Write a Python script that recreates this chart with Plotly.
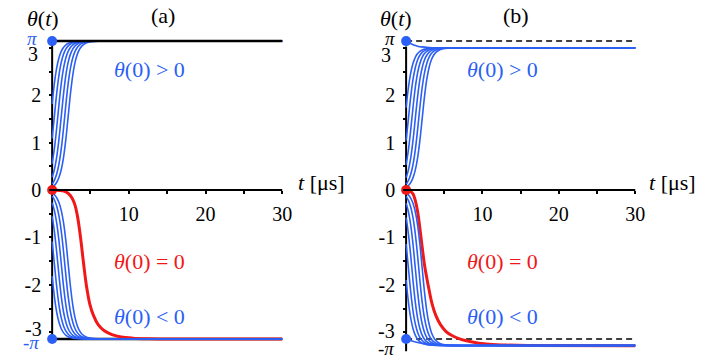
import plotly.graph_objects as go

BLUE = "#2b5ff5"
RED = "#f01818"
SERIF = "Liberation Serif"

# shared time grid for the blue trajectories [µs]
t_grid = [0, 0.3, 0.6, 0.9, 1.2, 1.5, 1.8, 2.1, 2.4, 2.7, 3.0, 3.3, 3.6, 3.9, 4.5, 5.1, 6.0, 8.0, 30]

# (a) theta(0) > 0
theta_up_a = [
    [1.818, 2.260, 2.584, 2.797, 2.932, 3.014, 3.064, 3.095, 3.113, 3.124, 3.131, 3.135, 3.138, 3.139, 3.141, 3.1414, 3.1416, 3.1416, 3.1416],
    [1.090, 1.571, 2.051, 2.437, 2.703, 2.873, 2.978, 3.042, 3.081, 3.105, 3.119, 3.128, 3.133, 3.137, 3.140, 3.141, 3.1415, 3.1416, 3.1416],
    [0.558, 0.882, 1.324, 1.818, 2.260, 2.584, 2.797, 2.932, 3.014, 3.064, 3.095, 3.113, 3.124, 3.131, 3.138, 3.140, 3.1413, 3.1416, 3.1416],
    [0.269, 0.439, 0.705, 1.090, 1.571, 2.051, 2.437, 2.703, 2.873, 2.978, 3.042, 3.081, 3.105, 3.119, 3.133, 3.139, 3.141, 3.1416, 3.1416],
    [0.128, 0.210, 0.344, 0.558, 0.882, 1.324, 1.818, 2.260, 2.584, 2.797, 2.932, 3.014, 3.064, 3.095, 3.124, 3.135, 3.140, 3.1415, 3.1416],
    [0.060, 0.099, 0.164, 0.269, 0.439, 0.705, 1.090, 1.571, 2.051, 2.437, 2.703, 2.873, 2.978, 3.042, 3.105, 3.128, 3.139, 3.1414, 3.1416],
]
# (a) theta(0) < 0
theta_dn_a = [
    [-1.818, -2.260, -2.584, -2.797, -2.932, -3.014, -3.064, -3.095, -3.113, -3.124, -3.131, -3.135, -3.138, -3.139, -3.141, -3.1414, -3.1416, -3.1416, -3.1416],
    [-1.090, -1.571, -2.051, -2.437, -2.703, -2.873, -2.978, -3.042, -3.081, -3.105, -3.119, -3.128, -3.133, -3.137, -3.140, -3.141, -3.1415, -3.1416, -3.1416],
    [-0.558, -0.882, -1.324, -1.818, -2.260, -2.584, -2.797, -2.932, -3.014, -3.064, -3.095, -3.113, -3.124, -3.131, -3.138, -3.140, -3.1413, -3.1416, -3.1416],
    [-0.269, -0.439, -0.705, -1.090, -1.571, -2.051, -2.437, -2.703, -2.873, -2.978, -3.042, -3.081, -3.105, -3.119, -3.133, -3.139, -3.141, -3.1416, -3.1416],
    [-0.128, -0.210, -0.344, -0.558, -0.882, -1.324, -1.818, -2.260, -2.584, -2.797, -2.932, -3.014, -3.064, -3.095, -3.124, -3.135, -3.140, -3.1415, -3.1416],
    [-0.060, -0.099, -0.164, -0.269, -0.439, -0.705, -1.090, -1.571, -2.051, -2.437, -2.703, -2.873, -2.978, -3.042, -3.105, -3.128, -3.139, -3.1414, -3.1416],
]
# (b) theta(0) > 0, settling below pi
theta_up_b = [
    [1.736, 2.158, 2.468, 2.671, 2.800, 2.878, 2.926, 2.956, 2.973, 2.983, 2.990, 2.994, 2.997, 2.998, 3.0, 3.0, 3.0, 3.0, 3.0],
    [1.041, 1.500, 1.959, 2.327, 2.581, 2.744, 2.844, 2.905, 2.942, 2.965, 2.979, 2.987, 2.992, 2.996, 2.999, 3.0, 3.0, 3.0, 3.0],
    [0.533, 0.842, 1.264, 1.736, 2.158, 2.468, 2.671, 2.800, 2.878, 2.926, 2.956, 2.973, 2.983, 2.990, 2.997, 2.999, 3.0, 3.0, 3.0],
    [0.257, 0.419, 0.673, 1.041, 1.500, 1.959, 2.327, 2.581, 2.744, 2.844, 2.905, 2.942, 2.965, 2.979, 2.992, 2.998, 3.0, 3.0, 3.0],
    [0.122, 0.201, 0.329, 0.533, 0.842, 1.264, 1.736, 2.158, 2.468, 2.671, 2.800, 2.878, 2.926, 2.956, 2.983, 2.994, 2.999, 3.0, 3.0],
    [0.057, 0.095, 0.157, 0.257, 0.419, 0.673, 1.041, 1.500, 1.959, 2.327, 2.581, 2.744, 2.844, 2.905, 2.965, 2.987, 2.998, 3.0, 3.0],
]
# (b) theta(0) < 0, settling below -pi
theta_dn_b = [
    [-1.898, -2.359, -2.698, -2.920, -3.061, -3.147, -3.199, -3.231, -3.250, -3.262, -3.269, -3.273, -3.276, -3.277, -3.279, -3.28, -3.28, -3.28, -3.28],
    [-1.138, -1.640, -2.141, -2.544, -2.822, -2.999, -3.109, -3.176, -3.217, -3.242, -3.256, -3.266, -3.271, -3.275, -3.278, -3.279, -3.28, -3.28, -3.28],
    [-0.583, -0.921, -1.382, -1.898, -2.359, -2.698, -2.920, -3.061, -3.147, -3.199, -3.231, -3.250, -3.262, -3.269, -3.276, -3.278, -3.28, -3.28, -3.28],
    [-0.281, -0.458, -0.736, -1.138, -1.640, -2.141, -2.544, -2.822, -2.999, -3.109, -3.176, -3.217, -3.242, -3.256, -3.271, -3.277, -3.279, -3.28, -3.28],
    [-0.134, -0.219, -0.359, -0.583, -0.921, -1.382, -1.898, -2.359, -2.698, -2.920, -3.061, -3.147, -3.199, -3.231, -3.262, -3.273, -3.278, -3.28, -3.28],
    [-0.063, -0.103, -0.171, -0.281, -0.458, -0.736, -1.138, -1.640, -2.141, -2.544, -2.822, -2.999, -3.109, -3.176, -3.242, -3.266, -3.277, -3.28, -3.28],
]

# (b) trajectories starting exactly at +pi / -pi
t_edge_b = [0, 0.5, 1.0, 1.5, 2.0, 3.0, 4.0, 5.0, 30]
theta_from_pi_b = [3.1416, 3.10, 3.06, 3.035, 3.02, 3.006, 3.0, 3.0, 3.0]
theta_from_mpi_b = [-3.1416, -3.17, -3.195, -3.215, -3.232, -3.255, -3.27, -3.278, -3.28]

# red trajectories, theta(0) = 0
t_red_a = [0, 1.0, 1.8, 2.4, 2.9, 3.3, 3.7, 4.1, 4.5, 4.9, 5.4, 6.0, 6.8, 7.8, 9.0, 10.5, 12.5, 15, 30]
theta_red_a = [0, -0.01, -0.04, -0.12, -0.28, -0.55, -1.0, -1.55, -2.05, -2.4, -2.65, -2.84, -2.97, -3.05, -3.1, -3.125, -3.137, -3.141, -3.1416]
t_red_b = [0, 0.5, 0.9, 1.2, 1.5, 1.8, 2.1, 2.4, 2.7, 3.0, 3.4, 3.9, 4.5, 5.2, 6.0, 7.0, 8.5, 10.5, 13, 16, 30]
theta_red_b = [0, -0.02, -0.08, -0.22, -0.45, -0.8, -1.2, -1.57, -1.85, -2.1, -2.4, -2.65, -2.84, -2.98, -3.07, -3.14, -3.2, -3.25, -3.27, -3.28, -3.285]

# reference levels +/- pi
t_ref = [0, 30]
pi_level = [3.1416, 3.1416]
mpi_level = [-3.1416, -3.1416]

# start points
dot_t = [0, 0]
dot_blue = [3.1416, -3.1416]
dot_red = [0]

fig = go.Figure()


def line(x, y, xa, ya, color, width, dash="solid", shape="spline"):
    fig.add_trace(go.Scatter(
        x=x, y=y, xaxis=xa, yaxis=ya, mode="lines",
        line=dict(color=color, width=width, dash=dash, shape=shape),
        showlegend=False, hoverinfo="skip",
    ))


# panel (a)
line(t_ref, mpi_level, "x", "y", "black", 2.5, shape="linear")
line(t_red_a, theta_red_a, "x", "y", RED, 3)
for ys in theta_up_a + theta_dn_a:
    line(t_grid, ys, "x", "y", BLUE, 1.6)
line(t_ref, pi_level, "x", "y", "black", 2.5, shape="linear")

# panel (b)
line(t_ref, pi_level, "x2", "y2", "black", 1.5, dash="6px,4px", shape="linear")
line(t_ref, mpi_level, "x2", "y2", "black", 1.5, dash="6px,4px", shape="linear")
line(t_red_b, theta_red_b, "x2", "y2", RED, 3)
for ys in theta_up_b + theta_dn_b:
    line(t_grid, ys, "x2", "y2", BLUE, 1.6)
line(t_edge_b, theta_from_pi_b, "x2", "y2", BLUE, 1.6)
line(t_edge_b, theta_from_mpi_b, "x2", "y2", BLUE, 1.6)

for xa, ya in (("x", "y"), ("x2", "y2")):
    fig.add_trace(go.Scatter(x=dot_t, y=dot_blue, xaxis=xa, yaxis=ya, mode="markers",
                             marker=dict(color=BLUE, size=10), cliponaxis=False,
                             showlegend=False, hoverinfo="skip"))
    fig.add_trace(go.Scatter(x=[0], y=dot_red, xaxis=xa, yaxis=ya, mode="markers",
                             marker=dict(color=RED, size=10), cliponaxis=False,
                             showlegend=False, hoverinfo="skip"))

tick_font = dict(family=SERIF, size=20, color="black")
xcommon = dict(
    range=[-1, 31], anchor="free", position=0.4737,
    showline=False, zeroline=False, showgrid=False,
    tickvals=[10, 20, 30], ticktext=["10", "20", "30"],
    ticks="outside", ticklen=3, tickwidth=1.5, tickcolor="black",
    minor=dict(tickvals=[5, 15, 25], ticks="outside", ticklen=3, tickwidth=1.5, tickcolor="black"),
    tickfont=tick_font, ticklabelstandoff=3,
)
ycommon = dict(
    range=[-3.55, 3.45], domain=[0.0075, 0.9266],
    showline=False, zeroline=False, showgrid=False,
    tickvals=[-3, -2, -1, 0, 1, 2, 3], ticktext=["", "-2", "-1", "0", "1", "2", ""],
    ticks="outside", ticklen=3, tickwidth=1.5, tickcolor="black",
    minor=dict(tickvals=[-2.5, -1.5, -0.5, 0.5, 1.5, 2.5], ticks="outside", ticklen=3,
               tickwidth=1.5, tickcolor="black"),
    tickfont=tick_font, ticklabelstandoff=4,
)

fig.update_layout(
    width=708, height=361, autosize=False,
    margin=dict(l=0, r=0, t=0, b=0),
    paper_bgcolor="white", plot_bgcolor="white",
    xaxis=dict(domain=[0.0630, 0.4106], **xcommon),
    xaxis2=dict(domain=[0.5644, 0.9106], **xcommon),
    yaxis=dict(anchor="free", position=0.0739, **ycommon),
    yaxis2=dict(anchor="free", position=0.5753, **ycommon),
)

# axis lines crossing at the origin
for xr, yr, ybot, ytop in (("x", "y", -3.2, 3.07), ("x2", "y2", -3.4, 3.03)):
    fig.add_shape(type="line", xref=xr, yref=yr, x0=0, x1=30, y0=0, y1=0,
                  line=dict(color="black", width=2), layer="above")
    fig.add_shape(type="line", xref=xr, yref=yr, x0=0, x1=0, y0=ybot, y1=ytop,
                  line=dict(color="black", width=2), layer="below")

annos = [
    # panel titles
    (0.2302, 0.9557, "(a)", "black", "center", 22),
    (0.7302, 0.9557, "(b)", "black", "center", 22),
    (0.0607, 0.950, "<i>θ</i>(<i>t</i>)", "black", "center", 22),
    (0.5616, 0.950, "<i>θ</i>(<i>t</i>)", "black", "center", 22),
    (0.4195, 0.4958, "<i>t</i> [μs]", "black", "left", 22),
    (0.9167, 0.4958, "<i>t</i> [μs]", "black", "left", 22),
    # region labels
    (0.2119, 0.8061, "<i>θ</i>(0) > 0", BLUE, "center", 22),
    (0.2119, 0.2770, "<i>θ</i>(0) = 0", RED, "center", 22),
    (0.2119, 0.1219, "<i>θ</i>(0) < 0", BLUE, "center", 22),
    (0.7112, 0.8061, "<i>θ</i>(0) > 0", BLUE, "center", 22),
    (0.7112, 0.2770, "<i>θ</i>(0) = 0", RED, "center", 22),
    (0.7112, 0.1219, "<i>θ</i>(0) < 0", BLUE, "center", 22),
    # special tick labels
    (0.0452, 0.8947, "<i>π</i>", BLUE, "center", 19),
    (0.0473, 0.8504, "3", "black", "center", 20),
    (0.0480, 0.0886, "-3", "black", "center", 20),
    (0.0438, 0.0499, "-<i>π</i>", BLUE, "center", 19),
    (0.5523, 0.8947, "<i>π</i>", "black", "center", 19),
    (0.5473, 0.8476, "3", "black", "center", 20),
    (0.5480, 0.0831, "-3", "black", "center", 20),
    (0.5473, 0.0360, "-<i>π</i>", "black", "center", 19),
]
for x, y, text, color, xanchor, size in annos:
    fig.add_annotation(x=x, y=y, xref="paper", yref="paper", text=text, showarrow=False,
                       xanchor=xanchor, yanchor="middle",
                       font=dict(family=SERIF, size=size, color=color))

fig.write_html(
    "out.html",
    config={"displayModeBar": False},
    post_script="document.body.style.margin='0';document.body.style.overflow='hidden';",
)
